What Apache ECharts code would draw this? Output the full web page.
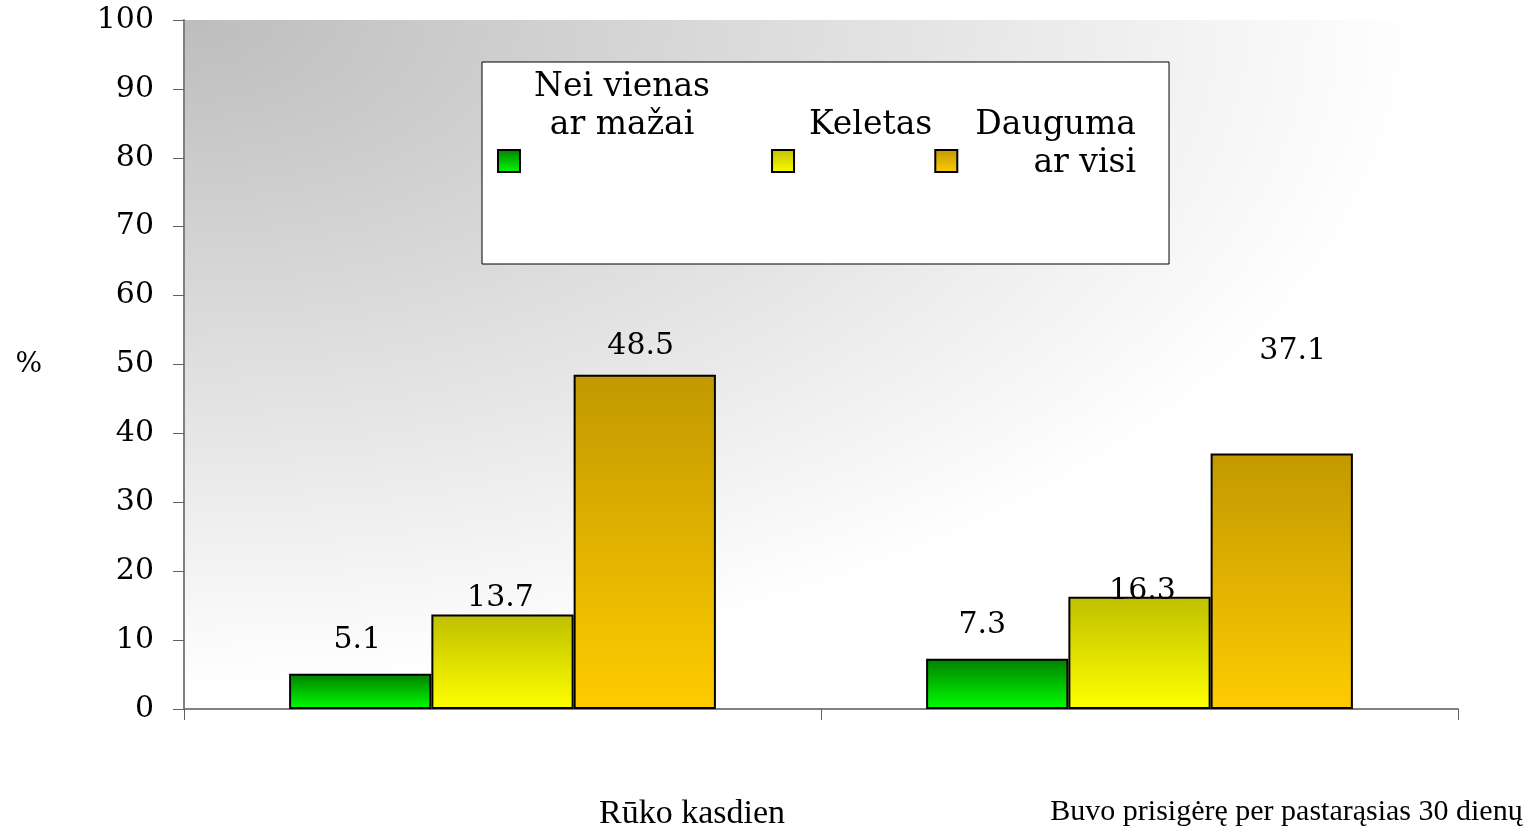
<!DOCTYPE html>
<html>
<head>
<meta charset="utf-8">
<title>Rūko kasdien / Buvo prisigėrę</title>
<script src="https://cdn.jsdelivr.net/npm/echarts@6/dist/echarts.min.js"></script>
<style>
  html, body { margin: 0; padding: 0; background: #fff; }
  #chart { width: 1528px; height: 831px; }
</style>
</head>
<body>
<div id="chart"></div>
<script>
// Kategorijos ir reikšmės (%)
const categories = ['Rūko kasdien', 'Buvo prisigėrę per pastarąsias 30 dienų'];
const seriesNames = ['Nei vienas ar mažai', 'Keletas', 'Dauguma ar visi'];
const neiVienas = [5.1, 7.3];
const keletas = [13.7, 16.3];
const dauguma = [48.5, 37.1];
const yMin = 0;
const yMax = 100;
const yStep = 10;

document.addEventListener('DOMContentLoaded', () => {
  const el = document.getElementById('chart');
  const chart = echarts.init(el);

  // grafiko ploto ribos
  const gridLeft = 184, gridRight = 70, gridTop = 20, gridBottom = 122;
  const plotW = el.clientWidth - gridLeft - gridRight;
  const plotH = el.clientHeight - gridTop - gridBottom;

  const values = [neiVienas, keletas, dauguma];
  // spalvų perėjimai: viršus -> apačia
  const fills = [
    ['#007f00', '#00ff00'],
    ['#bfbf00', '#ffff00'],
    ['#c29800', '#ffcc00']
  ];
  // etikečių pataisos, kad stovėtų kaip originale
  const labelNudge = [
    [[-3, -14], [-15, -13]],
    [[-2, 4], [3, 15]],
    [[-4, -9], [11, -82]]
  ];
  // legendos teksto išdėstymas
  const legendPads = [
    [0, 59, 110, 9],
    [0, 0, 72, 10],
    [0, 0, 34, 13]
  ];
  const legendAlign = ['c', 'l', 'r'];

  const serif = 'DejaVu Serif';

  chart.setOption({
    animation: false,
    // elipsinis pilkas fonas iš viršutinio kairiojo kampo
    graphic: [{
      type: 'rect',
      silent: true,
      z: -10,
      x: gridLeft,
      y: gridTop,
      scaleX: plotW / plotH,
      shape: { x: 0, y: 0, width: plotH, height: plotH },
      style: {
        fill: {
          type: 'radial', x: 0, y: 0, r: 0.97,
          colorStops: [
            { offset: 0, color: '#bdbdbd' },
            { offset: 1, color: '#ffffff' }
          ]
        }
      }
    }],
    grid: {
      left: gridLeft,
      right: gridRight,
      top: gridTop,
      bottom: gridBottom
    },
    legend: {
      left: 482,
      top: 62,
      orient: 'horizontal',
      selectedMode: false,
      icon: 'rect',
      itemWidth: 22,
      itemHeight: 22,
      itemGap: 2,
      padding: [6, 33, 10, 15],
      backgroundColor: '#ffffff',
      borderColor: '#000000',
      borderWidth: 1,
      itemStyle: { borderColor: '#000000', borderWidth: 2 },
      data: seriesNames.map((n, i) => ({ name: n, textStyle: { padding: legendPads[i] } })),
      formatter: (name) => {
        const i = seriesNames.indexOf(name);
        const lines = name.split(' ar ');
        const parts = lines.length > 1 ? [lines[0], 'ar ' + lines[1]] : lines;
        return parts.map(p => '{' + legendAlign[i] + '|' + p + '}').join('\n');
      },
      textStyle: {
        backgroundColor: 'transparent',
        rich: {
          c: { fontFamily: serif, fontSize: 33, lineHeight: 38, color: '#000', align: 'center' },
          l: { fontFamily: serif, fontSize: 33, lineHeight: 38, color: '#000', align: 'left' },
          r: { fontFamily: serif, fontSize: 33, lineHeight: 38, color: '#000', align: 'right' }
        }
      }
    },
    xAxis: {
      type: 'category',
      data: categories,
      axisLine: { lineStyle: { color: '#808080', width: 2 } },
      axisTick: { show: true, interval: 0, length: 11, lineStyle: { color: '#606060', width: 1 } },
      axisLabel: {
        interval: 0,
        margin: 88,
        formatter: (v, i) => '{c' + i + '|' + v + '}',
        rich: {
          c0: { fontFamily: 'Liberation Serif', fontSize: 34, color: '#000', padding: [0, 0, 0, 379] },
          c1: { fontFamily: 'Liberation Serif', fontSize: 30, color: '#000', padding: [0, 0, 0, 294] }
        }
      }
    },
    yAxis: {
      type: 'value',
      min: yMin,
      max: yMax,
      interval: yStep,
      name: '%',
      nameLocation: 'middle',
      nameRotate: 0,
      nameGap: 142,
      nameTextStyle: { fontFamily: serif, fontSize: 28, color: '#000', padding: [12, 0, 0, 0] },
      axisLine: { show: true, lineStyle: { color: '#808080', width: 2 } },
      axisTick: { show: true, length: 11, lineStyle: { color: '#606060', width: 1 } },
      splitLine: { show: false },
      axisLabel: { margin: 30, fontFamily: serif, fontSize: 30, color: '#000' }
    },
    series: seriesNames.map((name, s) => ({
      name: name,
      type: 'bar',
      barGap: 0,
      barCategoryGap: '33%',
      itemStyle: {
        borderColor: '#000000',
        borderWidth: 2,
        color: {
          type: 'linear', x: 0, y: 0, x2: 0, y2: 1,
          colorStops: [
            { offset: 0, color: fills[s][0] },
            { offset: 1, color: fills[s][1] }
          ]
        }
      },
      label: {
        show: true,
        position: 'top',
        distance: 5,
        fontFamily: serif,
        fontSize: 30,
        color: '#000',
        formatter: (p) => p.value.toFixed(1)
      },
      data: values[s].map((v, c) => ({ value: v, label: { offset: labelNudge[s][c] } }))
    }))
  });
});
</script>
</body>
</html>
